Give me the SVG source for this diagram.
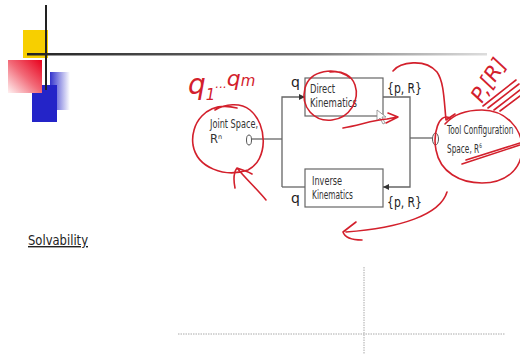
<svg xmlns="http://www.w3.org/2000/svg" width="520" height="354" viewBox="0 0 520 354">
<defs>
<linearGradient id="hl" x1="0" y1="0" x2="1" y2="0">
<stop offset="0" stop-color="#222"/><stop offset="0.6" stop-color="#777"/><stop offset="1" stop-color="#ddd"/>
</linearGradient>
<linearGradient id="rg" x1="1" y1="0" x2="0" y2="1">
<stop offset="0" stop-color="#e8001c"/><stop offset="0.5" stop-color="#f26a78"/><stop offset="1" stop-color="#fff2f2"/>
</linearGradient>
<linearGradient id="bg" x1="0" y1="0" x2="1" y2="0">
<stop offset="0" stop-color="#3333cc"/><stop offset="1" stop-color="#ffffff"/>
</linearGradient>
<marker id="ah" viewBox="0 0 8 8" refX="8" refY="4" markerWidth="6" markerHeight="6" orient="auto" markerUnits="userSpaceOnUse">
<path d="M0,0 L8,4 L0,8 z" fill="#333"/>
</marker>
<style>
.ln{fill:none;stroke:#666;stroke-width:1.3}
.box{fill:#fff;stroke:#666;stroke-width:1.2}
.lbl{font-family:"DejaVu Sans",sans-serif;font-size:11.5px;fill:#333}
.sup{font-family:"DejaVu Sans",sans-serif;font-size:6.5px;fill:#333}
.sym{font-family:"DejaVu Sans",sans-serif;font-size:14px;fill:#222}
.pen{fill:none;stroke:#d3202c;stroke-width:1.6;stroke-linecap:round;stroke-linejoin:round}
.hand{font-family:"DejaVu Sans",sans-serif;font-style:italic;fill:#d3202c}
.dot{fill:none;stroke:#aaa;stroke-width:1;stroke-dasharray:1.5 1}
</style>
</defs>
<rect width="520" height="354" fill="#fff"/>
<g id="decoration">
<rect x="23" y="30" width="25" height="28" fill="#f7cf00"/>
<rect x="50" y="72" width="20" height="38" fill="url(#bg)"/>
<rect x="32" y="85" width="25" height="37" fill="#2424c8"/>
<rect x="8" y="60" width="34" height="33" fill="url(#rg)"/>
<line x1="46" y1="5" x2="46" y2="90" stroke="#222" stroke-width="2"/>
<rect x="27" y="53" width="460" height="2.5" fill="url(#hl)"/>
</g>
<g id="joint-space">
<text class="lbl" x="210" y="128" textLength="48" lengthAdjust="spacingAndGlyphs">Joint Space,</text>
<text class="lbl" x="210" y="143" font-size="10">R<tspan class="sup" dy="-4">n</tspan></text>
<ellipse cx="249" cy="140" rx="2.5" ry="5" fill="#fff" stroke="#555" stroke-width="1"/>
</g>
<g id="direct-kinematics">
<rect class="box" x="305" y="78" width="78" height="38"/>
<text class="lbl" x="310" y="93" textLength="25" lengthAdjust="spacingAndGlyphs">Direct</text>
<text class="lbl" x="310" y="107" textLength="47" lengthAdjust="spacingAndGlyphs">Kinematics</text>
</g>
<g id="inverse-kinematics">
<rect class="box" x="305" y="169" width="78" height="38"/>
<text class="lbl" x="312" y="185" textLength="30" lengthAdjust="spacingAndGlyphs">Inverse</text>
<text class="lbl" x="312" y="199" textLength="41" lengthAdjust="spacingAndGlyphs">Kinematics</text>
</g>
<g id="tool-space">
<ellipse cx="435.5" cy="139" rx="3" ry="6" fill="#fff" stroke="#555" stroke-width="1"/>
<g transform="translate(447 0) scale(0.64 1)">
<text class="lbl" x="0" y="134">Tool Configuration</text>
<text class="lbl" x="0" y="153">Space, R<tspan class="sup" font-size="7.5" dy="-5">6</tspan></text>
</g>
</g>
<g id="connectors">
<polyline class="ln" points="252,139 282,139"/>
<polyline class="ln" points="282,187 282,97 305,97" marker-end="url(#ah)"/>
<polyline class="ln" points="282,187 305,187"/>
<polyline class="ln" points="383,97 410,97 410,187 383,187" marker-end="url(#ah)"/>
<polyline class="ln" points="410,138 432,138"/>
</g>
<g id="labels">
<text class="sym" x="291" y="87">q</text>
<text class="sym" x="291" y="203">q</text>
<text class="sym" x="387" y="93" textLength="35" lengthAdjust="spacingAndGlyphs">{p, R}</text>
<text class="sym" x="387" y="207" textLength="35" lengthAdjust="spacingAndGlyphs">{p, R}</text>
<text x="28" y="245" font-family="DejaVu Sans,sans-serif" font-size="14" fill="#222" text-decoration="underline" textLength="60" lengthAdjust="spacingAndGlyphs">Solvability</text>
</g>
<g id="axes">
<line class="dot" x1="178" y1="334" x2="505" y2="334"/>
<line class="dot" x1="364" y1="267" x2="364" y2="354"/>
</g>
<g id="cursor">
<path d="M377,110 L377,121 L380,118 L383,124 L385,123 L382,117 L386,117 z" fill="#fff" stroke="#888" stroke-width="0.8"/>
</g>
<g id="annotations">
<text class="hand" x="188" y="94" font-size="28">q<tspan font-size="15" dy="6">1</tspan><tspan font-size="12" dy="-12">...</tspan><tspan font-size="22" dy="-2">q</tspan><tspan font-size="15" dy="0">m</tspan></text>
<text class="hand" x="482" y="104" font-size="21" transform="rotate(-58 482 104)">P,[R]</text>
<path class="pen" d="M483,106 L516,80 M488,108 L519,84 M494,110 L520,90 M500,111 L520,96"/>
<path class="pen" d="M237,108 C205,100 190,125 193,145 C197,168 225,178 248,170 C268,160 268,125 250,110 C240,102 225,104 215,110"/>
<path class="pen" d="M266,200 C258,190 245,178 237,168 M235,188 C233,178 234,172 237,168 C242,170 247,171 252,174"/>
<path class="pen" d="M350,78 C335,66 310,70 305,88 C300,108 315,122 332,120 C350,118 360,100 355,85 C352,76 343,70 330,72"/>
<path class="pen" d="M343,128 C360,125 373,120 387,119 C392,118 396,117 398,117 M388,113 L398,117 L386,123"/>
<path class="pen" d="M393,71 C400,62 425,58 437,72 C444,82 444,100 446,120 L455,114"/>
<path class="pen" d="M450,118 C438,112 433,135 436,150 C440,172 460,183 482,183 C505,183 522,170 522,148 C522,128 505,110 482,110 C466,110 453,115 445,124"/>
<path class="pen" d="M462,164 L520,145 M466,160 L520,143"/>
<path class="pen" d="M447,192 C440,215 400,228 346,232 M356,222 L343,232 C345,238 352,240 362,240"/>
</g>
</svg>
